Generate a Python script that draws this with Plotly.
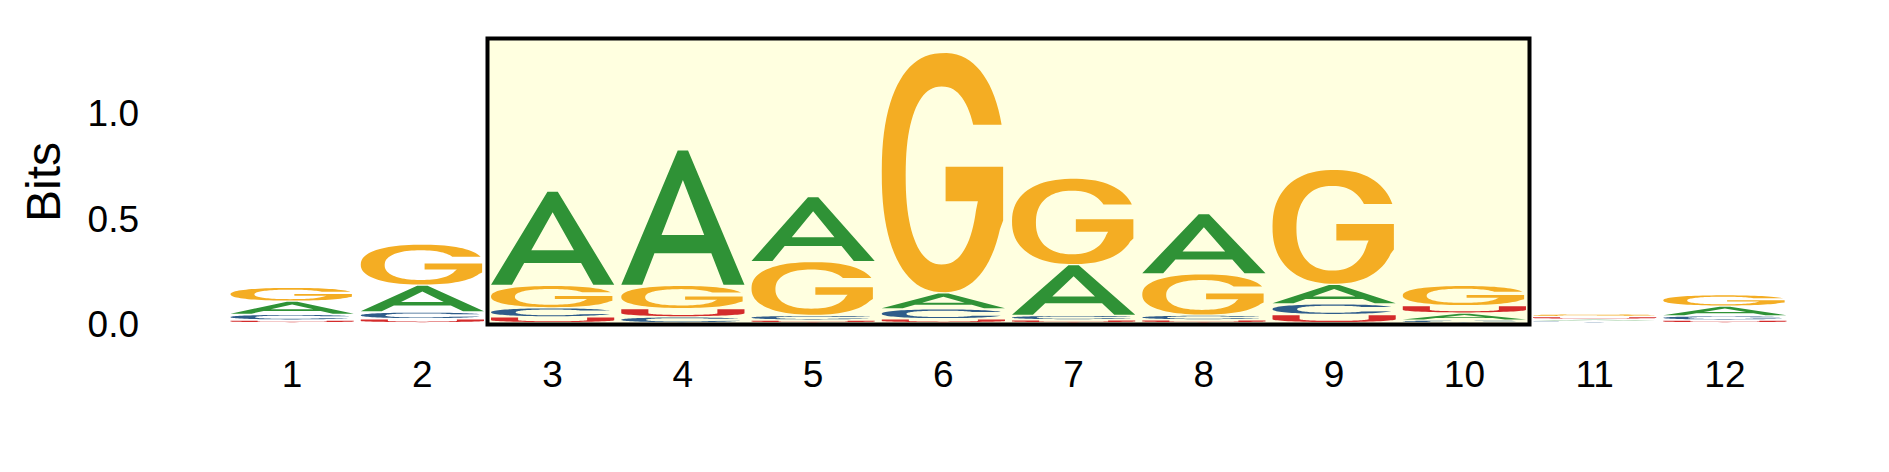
import numpy as np
import plotly.graph_objects as go

# RNA sequence logo, information content (bits) per position
positions = list(range(1, 13))
a_bits = [0.062, 0.127, 0.447, 0.642, 0.308, 0.076, 0.240, 0.285, 0.092, 0.033, 0.009, 0.046]
c_bits = [0.027, 0.032, 0.043, 0.028, 0.022, 0.047, 0.021, 0.022, 0.051, 0.013, 0.008, 0.020]
g_bits = [0.066, 0.195, 0.106, 0.110, 0.255, 1.139, 0.410, 0.196, 0.545, 0.096, 0.013, 0.054]
u_bits = [0.013, 0.019, 0.028, 0.039, 0.013, 0.019, 0.014, 0.014, 0.039, 0.035, 0.012, 0.013]

highlight_start, highlight_end = 3, 10
ytick_vals = [0.0, 0.5, 1.0]
ytick_text = ["0.0", "0.5", "1.0"]

colors = {"A": "#2F9236", "C": "#2F5C8A", "G": "#F4AD23", "U": "#D42B2B"}
FONT = "Liberation Sans, Arial, sans-serif"
GLYPH_WIDTH = 0.946
BASELINE = 0.008
GAP = 0.003

# page has an 8px body margin, so the figure is 8px smaller than the window
W, H = 1881, 464
L, R, T, B = 219, 99, 21, 137


def sup(cx, cy, rx, ry, t, n=2.3):
    p = 2.0 / n
    c, s = np.cos(t), np.sin(t)
    x = cx + rx * np.sign(c) * np.abs(c) ** p
    y = cy + ry * np.sign(s) * np.abs(s) ** p
    return list(zip(x, y))


def angle_at(y, cy, ry, n=2.3):
    p = 2.0 / n
    return np.arcsin(((y - cy) / ry) ** (1 / p))


def glyph_a():
    outer = [(0, 0), (0.17, 0), (0.269, 0.234), (0.731, 0.234), (0.83, 0),
             (1, 0), (0.542, 1), (0.458, 1)]
    hole = [(0.327, 0.37), (0.673, 0.37), (0.5, 0.78)]
    return [outer, hole]


def glyph_u():
    t_out = np.linspace(np.pi, 2 * np.pi, 40)
    t_in = np.linspace(2 * np.pi, np.pi, 40)
    pts = [(0, 1)] + sup(0.5, 0.42, 0.5, 0.42, t_out, 2.0) + [(1, 1), (0.78, 1)]
    pts += sup(0.5, 0.42, 0.28, 0.24, t_in, 2.0) + [(0.22, 1)]
    return [pts]


def glyph_c():
    to = angle_at(0.72, 0.5, 0.5)
    ti = angle_at(0.72, 0.49, 0.37)
    outer = sup(0.5, 0.5, 0.5, 0.5, np.linspace(to, 2 * np.pi - to, 80))
    inner = sup(0.49, 0.49, 0.29, 0.37, np.linspace(2 * np.pi - ti, ti, 80))
    return [outer + inner]


def glyph_g():
    to = angle_at(0.70, 0.5, 0.5)
    ti = angle_at(0.70, 0.488, 0.372)
    outer = sup(0.5, 0.5, 0.5, 0.5, np.linspace(to, 2 * np.pi - np.radians(25), 80))
    bar = [(0.985, 0.30), (0.985, 0.525), (0.518, 0.525), (0.518, 0.38), (0.78, 0.38)]
    inner = sup(0.487, 0.488, 0.293, 0.372,
                np.linspace(-np.radians(20), ti - 2 * np.pi, 80))
    return [outer + bar + inner]


glyphs = {"A": glyph_a(), "C": glyph_c(), "G": glyph_g(), "U": glyph_u()}


def to_path(polys, x0, w, y0, h):
    s = ""
    for poly in polys:
        pts = [f"{x0 + u * w:.4f},{y0 + v * h:.5f}" for u, v in poly]
        s += "M" + " L".join(pts) + " Z "
    return s


shapes = [dict(type="rect", xref="x", yref="y",
               x0=highlight_start - 0.5, x1=highlight_end + 0.5, y0=0, y1=1.355,
               fillcolor="#FFFFE0", line=dict(color="black", width=4), layer="below")]

table = {"A": a_bits, "C": c_bits, "G": g_bits, "U": u_bits}
for i, pos in enumerate(positions):
    stack = sorted(((table[b][i], b) for b in table), key=lambda t: t[0])
    y = BASELINE
    for val, base in stack:
        h = max(val - 2 * GAP, 0.001)
        shapes.append(dict(type="path", xref="x", yref="y",
                           path=to_path(glyphs[base], pos - GLYPH_WIDTH / 2, GLYPH_WIDTH,
                                        y + GAP, h),
                           fillcolor=colors[base], line=dict(width=0),
                           fillrule="evenodd", layer="above"))
        y += val

fig = go.Figure()
fig.update_layout(
    width=W, height=H,
    margin=dict(l=L, r=R, t=T, b=B),
    paper_bgcolor="white", plot_bgcolor="white",
    shapes=shapes,
    showlegend=False,
    xaxis=dict(range=[0.5, 12.5], tickvals=positions, ticktext=[str(p) for p in positions],
               showgrid=False, zeroline=False, showline=False, ticks="",
               tickfont=dict(family=FONT, size=37, color="black"),
               ticklabelstandoff=14, fixedrange=True),
    yaxis=dict(range=[-0.05, 1.4], tickvals=ytick_vals, ticktext=ytick_text,
               showgrid=False, zeroline=False, showline=False, ticks="",
               tickfont=dict(family=FONT, size=37, color="black"),
               ticklabelstandoff=87, fixedrange=True),
    annotations=[dict(text="Bits", xref="paper", yref="paper",
                      x=(43 - 8 - L) / (W - L - R), y=(H - B - (182 - 8)) / (H - T - B),
                      xanchor="center", yanchor="middle", textangle=-90,
                      showarrow=False, font=dict(family=FONT, size=48, color="black"))],
)

fig.write_html("out.html")
